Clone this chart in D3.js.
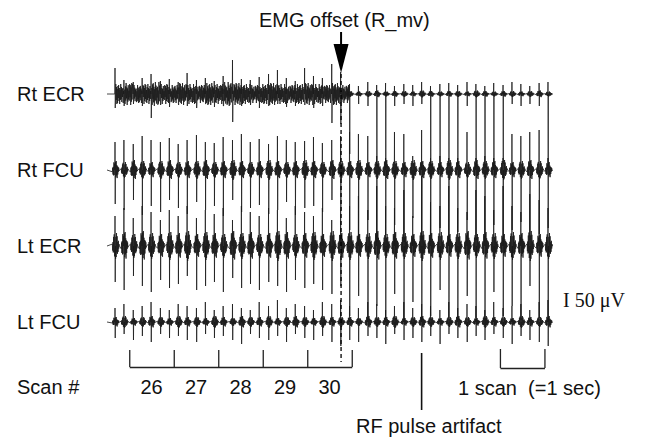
<!DOCTYPE html>
<html><head><meta charset="utf-8">
<script src="https://cdn.jsdelivr.net/npm/d3@7"></script>
<style>body{margin:0;background:#fff}svg{display:block}text{fill:#111}</style>
</head><body>
<svg id="c" width="650" height="440"></svg>
<script>
// ---- data (time in s, amplitudes in µV) ----
const channelNames = ["Rt ECR","Rt FCU","Lt ECR","Lt FCU"];
const scanNumbers = [26,27,28,29,30];
const scanEdges = [26,27,28,29,30,31];
const offsetTime = 30.76;          // EMG offset (R_mv)
const rfArtifactTime = 32.57;      // labelled RF pulse
const oneScan = [34.33, 35.33];
const pulseTimes = [25.68,25.88,26.09,26.29,26.49,26.70,26.90,27.10,27.30,27.51,27.71,27.91,28.11,28.32,28.52,28.72,28.92,29.13,29.33,29.53,29.73,29.94,30.14,30.34,30.55,30.75,30.95,31.15,31.36,31.56,31.76,31.96,32.17,32.37,32.57,32.77,32.98,33.18,33.38,33.59,33.79,33.99,34.19,34.40,34.60,34.80,35.00,35.21,35.41];

const rtEcrUp = [104,56,48,64,80,52,60,48,84,56,64,52,72,136,60,56,68,80,96,64,52,104,72,64,120,88, 40,32,48,36,44,32,40,36,48,32,40,44,36,48,40,32,44,36,48,40,32,44,48];
const rtEcrDown = [56,48,40,48,96,44,52,40,48,56,40,52,48,112,48,44,56,48,40,52,48,44,56,48,116,120, 240,40,48,288,296,48,40,48,40,288,296,288,280,48,288,296,288,280,40,48,40,48,280];
const rtEcrBurst = [40,44,36,40,48,40,36,44,40,36,44,40,48,44,40,36,40,44,40,36,40,44,40,36,44,36, 12,10,12,14,10,12,12,10,14,12,10,12,12,10,14,12,10,12,12,10,12,14,10];

const rtFcuUp = [112,120,104,136,120,112,128,104,120,140,112,108,132,120,144,112,124,104,136,120,112,116,132,108,120,136, 152,144,136,56,48,152,144,56,160,48,56,48,48,152,48,56,48,48,144,136,152,160,48];
const rtFcuDown = [136,160,120,180,144,168,120,152,176,128,160,144,184,120,168,152,140,176,160,128,180,152,144,168,120,160, 240,280,200,288,260,220,288,192,280,264,232,288,248,200,280,272,220,288,240,208,280,256,232];
const rtFcuBurst = [36,32,40,36,32,36,40,32,36,36,40,32,36,40,36,32,36,40,36,32,36,40,36,32,40,36, 36,40,32,36,40,36,32,40,36,36,32,40,36,32,40,36,36,40,32,36,40,36,32];

const ltEcrUp = [120,152,112,160,136,104,144,120,160,112,144,128,152,104,160,136,120,152,144,112,160,136,120,152,104,144, 160,200,144,240,160,152,224,120,280,176,160,240,152,136,224,200,144,240,160,136,208,184,152];
const ltEcrDown = [144,176,120,160,184,136,168,152,120,176,160,144,184,128,168,152,176,144,160,184,136,168,152,176,192,160, 280,200,296,240,288,192,304,224,296,280,176,288,296,200,288,304,184,280,240,296,160,288,304];
const ltEcrBurst = [52,56,48,60,52,48,56,52,60,48,56,52,48,60,52,56,48,52,60,56,48,52,56,48,60,52, 56,48,52,60,48,56,52,48,60,52,56,48,52,60,48,56,52,48,56,52,60,48,52];

const ltFcuUp = [56,72,48,64,80,56,48,72,64,56,80,48,64,72,56,48,80,64,88,56,72,64,48,80,72,88, 64,56,80,72,48,64,80,56,72,64,48,80,56,72,64,48,80,56,64,72,48,80,88];
const ltFcuDown = [64,48,72,56,80,48,64,56,72,80,48,64,56,72,88,48,64,72,56,80,48,64,72,56,80,96, 72,80,56,64,88,48,72,64,80,56,88,48,64,80,56,72,48,64,88,56,72,80,96];
const ltFcuBurst = [20,24,16,20,24,20,16,24,20,20,16,24,20,16,24,20,20,24,16,20,24,20,16,24,20,20, 20,16,24,20,20,24,16,20,24,20,16,20,24,20,16,24,20,20,16,24,20,20,24];

// burst wave shapes (fractions of burst amplitude)
const shapePreA = [0.15,-0.35,0.3,-0.5,0.7,-0.45,0.9,-0.8];
const shapePreB = [-0.2,0.25,-0.5,0.35,-0.6,0.85,-0.55,0.7];
const shapePostA = [-1.0,0.7,-0.85,1.0,-0.5,0.75,-0.6,0.3,-0.45,0.4,-0.2,0.15];
const shapePostB = [0.9,-0.8,1.0,-0.6,0.55,-0.9,0.4,-0.5,0.35,-0.2,0.25,-0.1];
const shapeDense = [0.8,-1.0,0.6,-0.7,1.0,-0.5,0.9,-0.8,0.4,-0.9,0.7,-0.6,1.0,-0.4,0.6,-1.0,0.5,-0.7,0.8,-0.5,0.3,-0.6,0.9,-0.3];

// ---- drawing ----
const svg = d3.select("#c");
const x = d3.scaleLinear().domain([25.5,35.5]).range([107,552]);
const bases = [94,170,246,322];
const channels = [
  {up:rtEcrUp, down:rtEcrDown, burst:rtEcrBurst, dense:true},
  {up:rtFcuUp, down:rtFcuDown, burst:rtFcuBurst},
  {up:ltEcrUp, down:ltEcrDown, burst:ltEcrBurst},
  {up:ltFcuUp, down:ltFcuDown, burst:ltFcuBurst}
];
const font = "Liberation Sans, Arial, sans-serif";

channels.forEach((ch,ci)=>{
  const y = d3.scaleLinear().domain([-200,200]).range([bases[ci]+50, bases[ci]-50]);
  const pts = [{t:25.5,v:0}];
  pulseTimes.forEach((t,i)=>{
    const b = ch.burst[i];
    const alt = (i+ci)%2===1;
    const dense = ch.dense && t < offsetTime;
    if(dense){
      pts.push({t:t-0.004,v:0},{t:t,v:ch.up[i]},{t:t+0.005,v:-ch.down[i]});
      const n = shapeDense.length, dt = 0.19/n;
      for(let j=0;j<n;j++){
        const k=(j+i*7)%n;
        pts.push({t:t+0.01+j*dt, v:shapeDense[k]*b*(alt?1:-1)});
      }
    } else {
      const pre = alt?shapePreB:shapePreA, post = alt?shapePostB:shapePostA;
      pre.forEach((s,j)=>pts.push({t:t-0.06+j*0.007, v:s*b}));
      pts.push({t:t-0.003,v:0},{t:t,v:ch.up[i]},{t:t+0.005,v:-ch.down[i]},{t:t+0.009,v:0});
      post.forEach((s,j)=>pts.push({t:t+0.013+j*0.007, v:s*b}));
      pts.push({t:t+0.1,v:0});
    }
  });
  pts.push({t:35.5,v:0});
  const line = d3.line().x(d=>x(d.t)).y(d=>y(d.v));
  svg.append("path").attr("d",line(pts)).attr("fill","none")
     .attr("stroke","#1a1a1a").attr("stroke-width",0.8);
  svg.append("text").attr("x",17).attr("y",bases[ci]+7)
     .attr("font-family",font).attr("font-size",20)
     .text(channelNames[ci]);
});

// EMG offset dashed line and arrow
const xo = x(offsetTime);
svg.append("line").attr("x1",xo).attr("x2",xo).attr("y1",74).attr("y2",362)
   .attr("stroke","#000").attr("stroke-width",1.3).attr("stroke-dasharray","4,3");
svg.append("line").attr("x1",xo).attr("x2",xo).attr("y1",32).attr("y2",46)
   .attr("stroke","#000").attr("stroke-width",2);
svg.append("path").attr("d",`M${xo-7.5},44L${xo+7.5},44L${xo},73Z`).attr("fill","#000");
svg.append("text").attr("x",259).attr("y",27)
   .attr("font-family",font).attr("font-size",20)
   .text("EMG offset (R_mv)");

// scan axis bracket
const scanScale = d3.scaleLinear().domain([26,31]).range([x(26),x(31)]);
const scanAxis = d3.axisBottom(scanScale).tickValues(scanEdges).tickSize(-17).tickSizeOuter(0).tickFormat("");
const ga = svg.append("g").attr("transform","translate(0,367)").call(scanAxis);
ga.selectAll("path,line").attr("stroke","#222").attr("stroke-width",1.3);
svg.append("text").attr("x",17).attr("y",394)
   .attr("font-family",font).attr("font-size",20).text("Scan #");
svg.selectAll("text.scan").data(scanNumbers).enter().append("text").attr("class","scan")
   .attr("x",d=>x(d+0.5)).attr("y",394).attr("text-anchor","middle")
   .attr("font-family",font).attr("font-size",20).text(d=>d);

// 1 scan bracket
const oneScale = d3.scaleLinear().domain(oneScan).range([x(oneScan[0]),x(oneScan[1])]);
const gb = svg.append("g").attr("transform","translate(0,368)")
   .call(d3.axisBottom(oneScale).tickValues(oneScan).tickSize(-19).tickSizeOuter(0).tickFormat(""));
gb.selectAll("path,line").attr("stroke","#222").attr("stroke-width",1.3);
svg.append("text").attr("x",458).attr("y",395).attr("xml:space","preserve")
   .attr("font-family",font).attr("font-size",20).text("1 scan \u00a0(=1 sec)");

// RF pulse artifact
const xr = x(rfArtifactTime);
svg.append("line").attr("x1",xr).attr("x2",xr).attr("y1",353).attr("y2",410)
   .attr("stroke","#111").attr("stroke-width",1.6);
svg.append("text").attr("x",356).attr("y",433)
   .attr("font-family",font).attr("font-size",20).text("RF pulse artifact");

// amplitude scale
svg.append("text").attr("x",563).attr("y",307)
   .attr("font-family","Liberation Serif, serif").attr("font-size",20).text("I 50 \u03bcV");
</script>
</body></html>
